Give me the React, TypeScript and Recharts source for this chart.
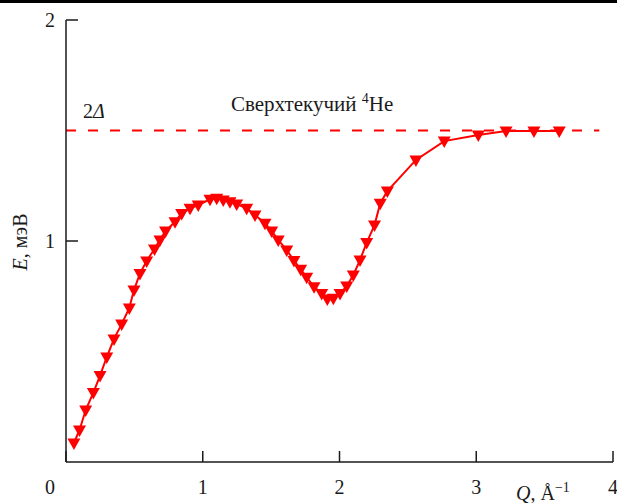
import React from "react";
import { LineChart, Line, XAxis, YAxis, ReferenceLine } from "recharts";

// Q, 1/Å
const qValues = [
  0.058, 0.099, 0.144, 0.2, 0.249, 0.298, 0.351, 0.407, 0.463, 0.497, 0.541, 0.59, 0.647,
  0.687, 0.728, 0.797, 0.846, 0.907, 0.967, 1.053, 1.102, 1.15, 1.199, 1.248, 1.321, 1.382,
  1.455, 1.504, 1.552, 1.614, 1.667, 1.716, 1.76, 1.814, 1.87, 1.911, 1.955, 2.004, 2.053,
  2.101, 2.15, 2.199, 2.256, 2.298, 2.35, 2.559, 2.766, 3.015, 3.218, 3.422, 3.607,
];
// E, meV
const eValues = [
  0.086, 0.145, 0.235, 0.314, 0.391, 0.475, 0.557, 0.624, 0.697, 0.778, 0.853, 0.91, 0.964,
  1.005, 1.045, 1.087, 1.125, 1.148, 1.163, 1.189, 1.193, 1.186, 1.178, 1.167, 1.148, 1.118,
  1.08, 1.045, 1.005, 0.959, 0.912, 0.872, 0.836, 0.793, 0.763, 0.738, 0.741, 0.763, 0.796,
  0.846, 0.914, 0.993, 1.072, 1.171, 1.226, 1.367, 1.452, 1.48, 1.498, 1.498, 1.498,
];
const gapValue = 1.5; // 2Δ
const gapEnd = 3.9;
const xTicks = [0, 1, 2, 3, 4];
const yTicks = [1, 2];

const data = qValues.map((q, i) => ({ q, e: eValues[i] }));

const RED = "#ff0000";
const INK = "#1a1a1a";
const FONT = "'Liberation Serif', 'Times New Roman', serif";

const XTick = ({ x, y, payload }: any) => (
  <g>
    <line x1={x} y1={y} x2={x} y2={y - 11} stroke={INK} strokeWidth={1.5} />
    <text
      x={payload.value === 0 ? x - 16 : x}
      y={y + 32}
      textAnchor="middle"
      fontSize={20}
      fontFamily={FONT}
      fill={INK}
    >
      {payload.value}
    </text>
  </g>
);

const YTick = ({ x, y, payload }: any) => (
  <g>
    <line x1={x} y1={y} x2={x + 12} y2={y} stroke={INK} strokeWidth={1.5} />
    <text x={x - 16} y={y + 7} textAnchor="middle" fontSize={20} fontFamily={FONT} fill={INK}>
      {payload.value}
    </text>
  </g>
);

const DownTriangle = ({ cx, cy }: any) => {
  if (cx == null || cy == null) return null;
  return (
    <path
      d={`M${cx - 6.5},${cy - 4.5} L${cx + 6.5},${cy - 4.5} L${cx},${cy + 7} Z`}
      fill={RED}
      stroke="none"
    />
  );
};

export default function App() {
  return (
    <div style={{ position: "fixed", left: 0, top: 0, width: 617, height: 503, background: "#fff", overflow: "hidden" }}>
      <div style={{ position: "absolute", left: 0, top: 0, width: 617, height: 3, background: "#000" }} />
      <LineChart width={617} height={503} data={data} margin={{ top: 20, right: 4, bottom: 11, left: 26 }}>
        <XAxis
          dataKey="q"
          type="number"
          domain={[0, 4]}
          ticks={xTicks}
          tickSize={0}
          tickMargin={0}
          tickLine={false}
          tick={<XTick />}
          height={30}
          axisLine={{ stroke: INK, strokeWidth: 1.5 }}
          interval={0}
        />
        <YAxis
          type="number"
          domain={[0, 2]}
          ticks={yTicks}
          tickSize={0}
          tickMargin={0}
          tickLine={false}
          tick={<YTick />}
          width={40}
          axisLine={{ stroke: INK, strokeWidth: 1.5 }}
          interval={0}
        />
        <ReferenceLine
          segment={[
            { x: 0, y: gapValue },
            { x: gapEnd, y: gapValue },
          ]}
          stroke={RED}
          strokeWidth={2}
          strokeDasharray="10 12"
        />
        <Line
          type="linear"
          dataKey="e"
          stroke={RED}
          strokeWidth={2}
          dot={<DownTriangle />}
          activeDot={false}
          isAnimationActive={false}
        />
      </LineChart>
      <svg
        width={617}
        height={503}
        style={{ position: "absolute", left: 0, top: 0, pointerEvents: "none" }}
        fontFamily={FONT}
        fill={INK}
      >
        <text x={83} y={118} fontSize={20}>
          2<tspan fontStyle="italic">Δ</tspan>
        </text>
        <text x={231} y={111} fontSize={21}>
          Сверхтекучий <tspan fontSize={14} dy={-8}>4</tspan>
          <tspan dy={8}>He</tspan>
        </text>
        <text x={516} y={500} fontSize={20}>
          <tspan fontStyle="italic">Q</tspan>, Å<tspan fontSize={14} dy={-8}>−1</tspan>
        </text>
        <text transform="translate(27,242) rotate(-90)" textAnchor="middle" fontSize={20}>
          <tspan fontStyle="italic">E</tspan>, мэВ
        </text>
      </svg>
    </div>
  );
}
